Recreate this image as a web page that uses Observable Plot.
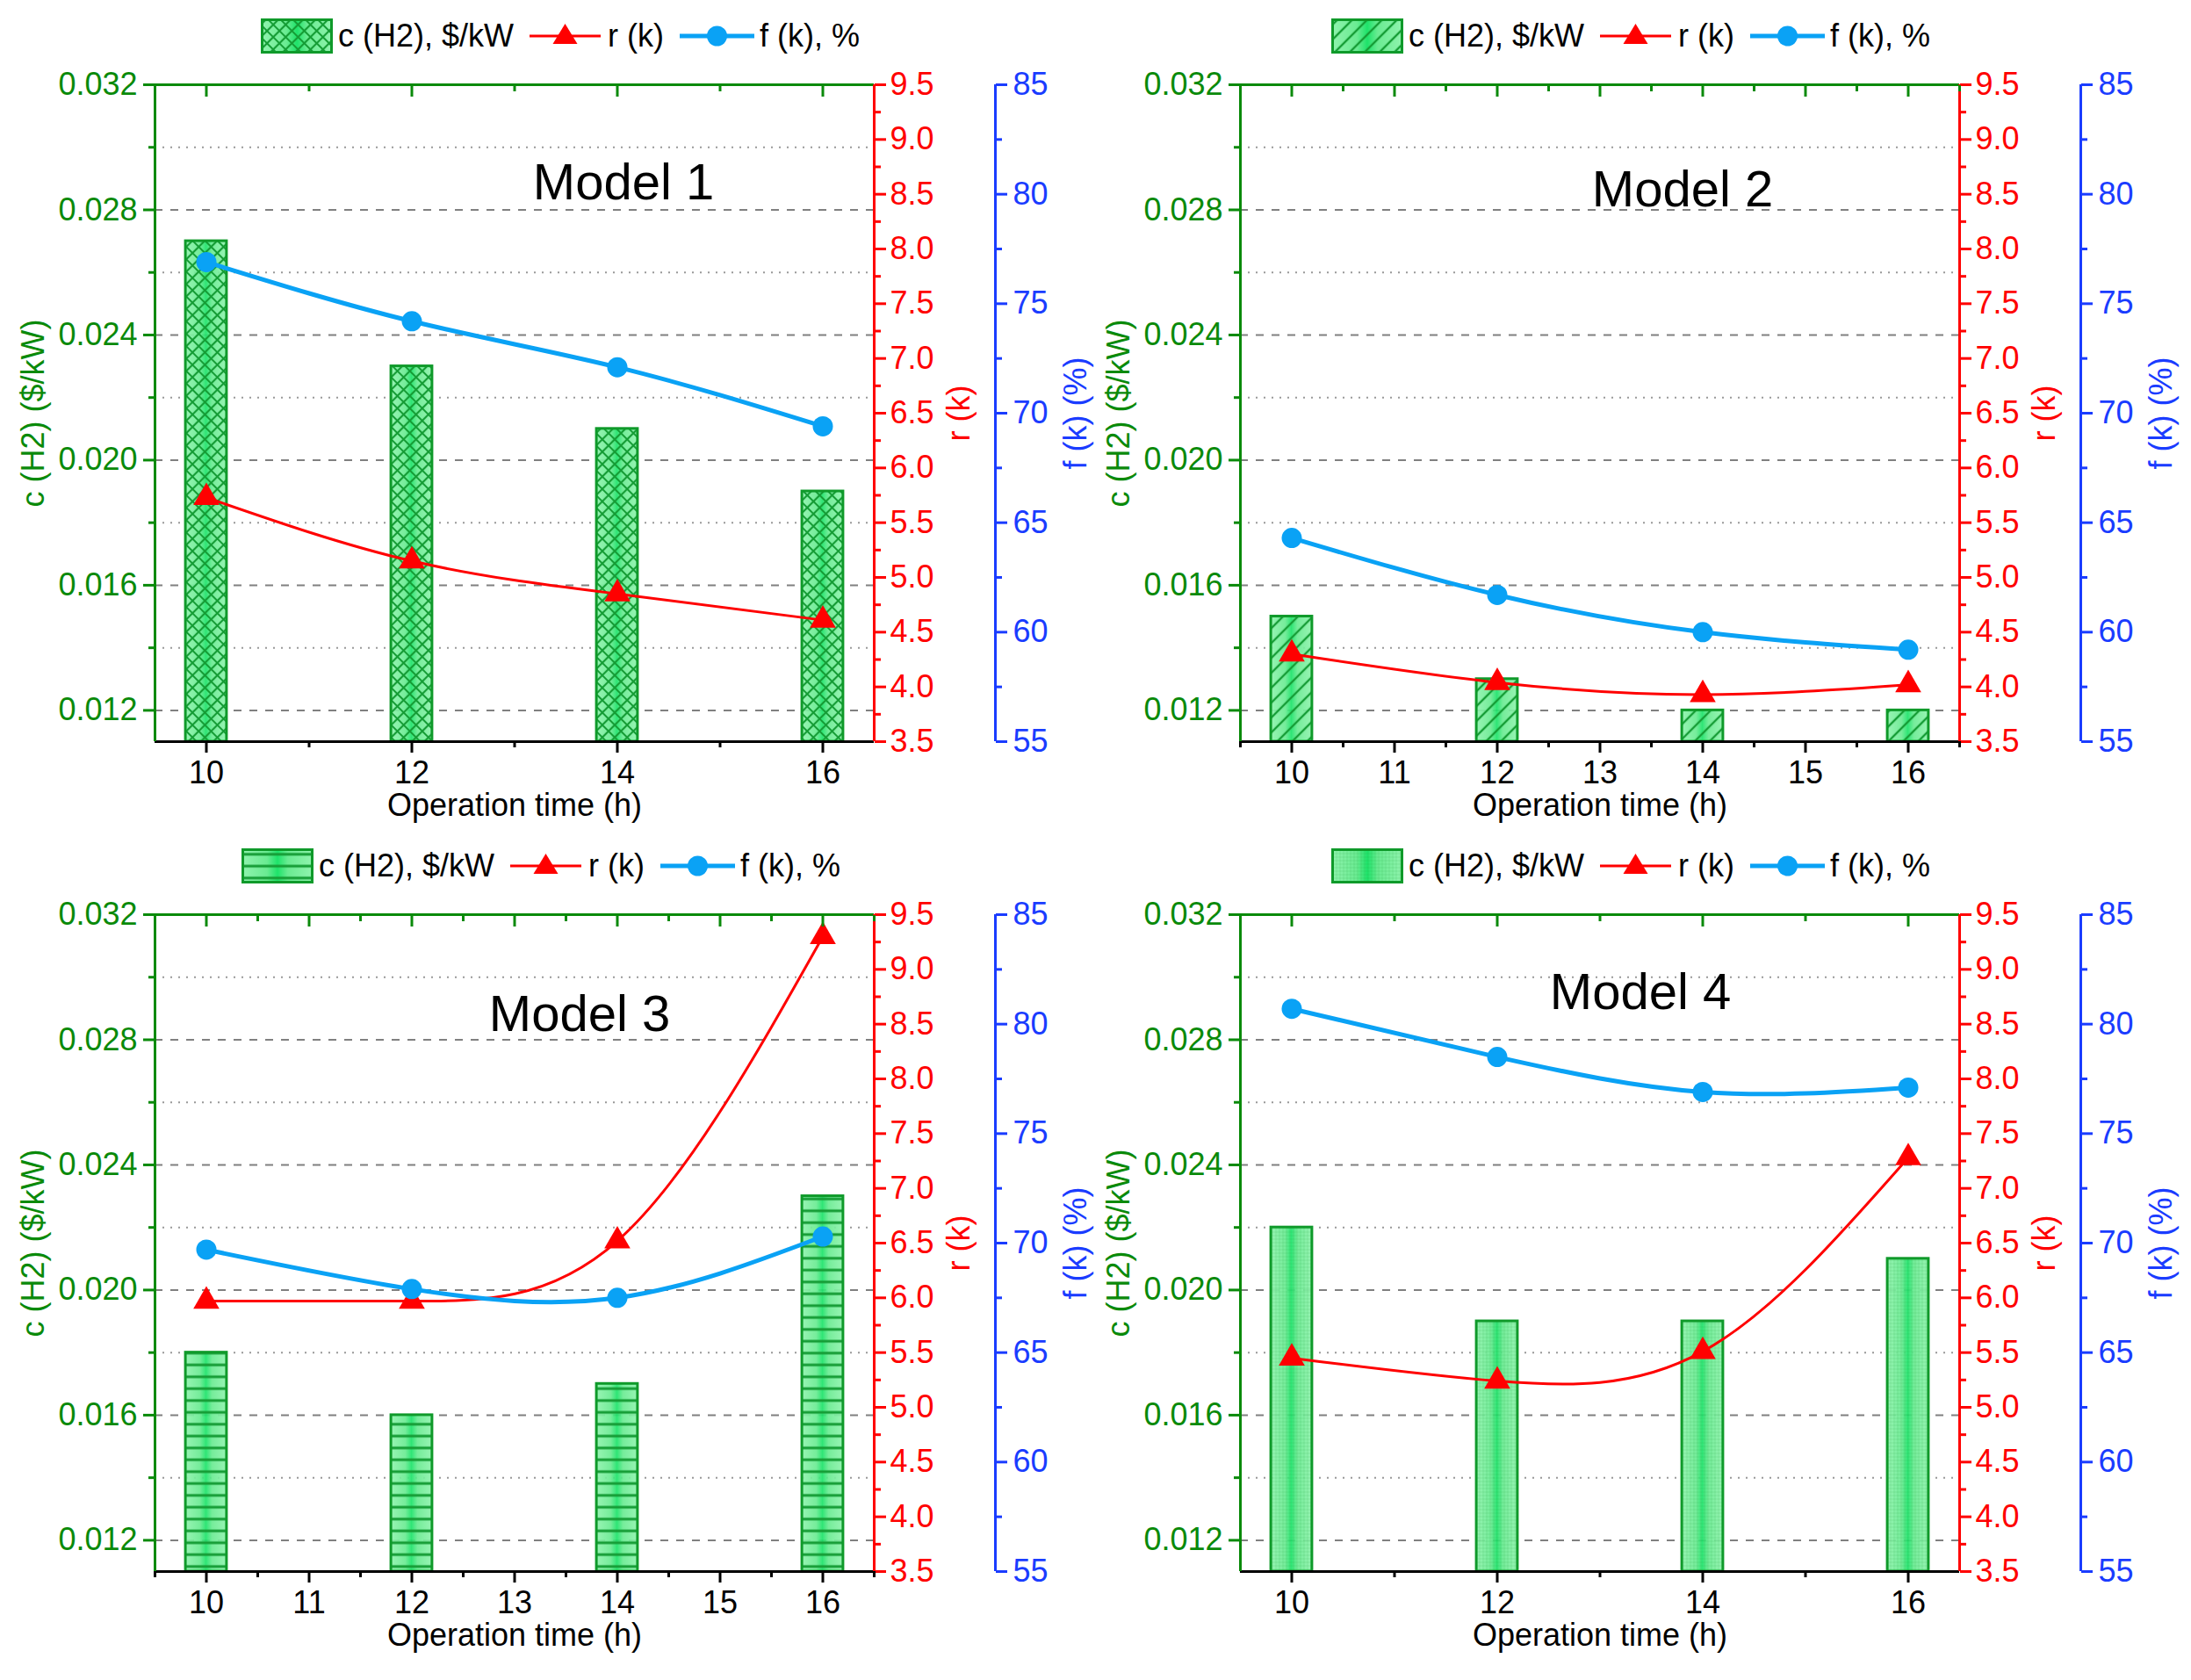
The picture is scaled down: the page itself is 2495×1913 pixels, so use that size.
<!DOCTYPE html>
<html>
<head>
<meta charset="utf-8">
<script src="https://cdn.jsdelivr.net/npm/d3@7"></script>
<script src="https://cdn.jsdelivr.net/npm/@observablehq/plot@0.6"></script>
<style>
  body { margin: 0; background: #fff; font-family: 'Liberation Sans', Arial, sans-serif; }
  #grid { display: grid; grid-template-columns: 1247px 1248px; grid-template-rows: 945px 968px; width: 2495px; }
  .panel { position: relative; }
  .legend { height: 70px; padding-top: 6px; display: flex; align-items: center; font-size: 36px; color: #000; white-space: nowrap; }
  .legend svg { display: block; }
</style>
</head>
<body>
<div id="grid"></div>
<script>
/* ============================================================
   c (H2), r (k), f (k) vs operation time, four models
   ============================================================ */

// ---- data ----
const hours = [10, 12, 14, 16];
const modelNames = ['Model 1', 'Model 2', 'Model 3', 'Model 4'];

const cost1 = [0.027, 0.023, 0.021, 0.019];
const cost2 = [0.015, 0.013, 0.012, 0.012];
const cost3 = [0.018, 0.016, 0.017, 0.023];
const cost4 = [0.022, 0.019, 0.019, 0.021];

const rk1 = [5.73, 5.15, 4.85, 4.61];
const rk2 = [4.30, 4.04, 3.93, 4.02];
const rk3 = [5.97, 5.97, 6.52, 9.30];
const rk4 = [5.45, 5.24, 5.51, 7.28];

const fk1 = [76.9, 74.2, 72.1, 69.4];
const fk2 = [64.3, 61.7, 60.0, 59.2];
const fk3 = [69.7, 67.9, 67.5, 70.3];
const fk4 = [80.7, 78.5, 76.9, 77.1];

// ---- axes ----
const xDomain = [9.5, 16.5];
const cDomain = [0.011, 0.032];
const rDomain = [3.5, 9.5];
const fDomain = [55, 85];

const xTicksEven = [10, 12, 14, 16];
const xTicksAll = [10, 11, 12, 13, 14, 15, 16];
const cTicks = [0.012, 0.016, 0.020, 0.024, 0.028, 0.032];
const cMinorTicks = [0.014, 0.018, 0.022, 0.026, 0.030];
const rTicks = [3.5, 4.0, 4.5, 5.0, 5.5, 6.0, 6.5, 7.0, 7.5, 8.0, 8.5, 9.0, 9.5];
const fTicks = [55, 60, 65, 70, 75, 80, 85];

const GREEN = '#0a8a0a';
const RED = '#ff0000';
const BLUE_AXIS = '#1a3cff';
const BLUE = '#0aa2f5';
const BAR_STROKE = '#0f9a2a';
const FONT = "'Liberation Sans', Arial, sans-serif";
const FS = 36;

const panels = [
  { cost: cost1, rk: rk1, fk: fk1, pattern: 'cross', labels: 'even', marginLeft: 176, legendLeft: 297, modelDx: 124, modelDy: 112 },
  { cost: cost2, rk: rk2, fk: fk2, pattern: 'diag',  labels: 'all',  marginLeft: 165, legendLeft: 269, modelDx: 94,  modelDy: 120 },
  { cost: cost3, rk: rk3, fk: fk3, pattern: 'horiz', labels: 'all',  marginLeft: 176, legendLeft: 275, modelDx: 74,  modelDy: 114 },
  { cost: cost4, rk: rk4, fk: fk4, pattern: 'fine',  labels: 'even', marginLeft: 165, legendLeft: 269, modelDx: 46,  modelDy: 89 }
];

// ---- shared gradient + hatch patterns ----
const defs = d3.select('body').append('svg')
  .attr('width', 0).attr('height', 0)
  .style('position', 'absolute')
  .append('defs');

const grad = defs.append('linearGradient').attr('id', 'barGrad')
  .attr('x1', 0).attr('x2', 1).attr('y1', 0).attr('y2', 0);
[[0, '#8ff3ad'], [0.35, '#6aeb92'], [0.5, '#1ee36a'], [0.65, '#6aeb92'], [1, '#8ff3ad']]
  .forEach(([o, c]) => grad.append('stop').attr('offset', o).attr('stop-color', c));

function addPattern(id, w, h, d, rotate, sw, op) {
  const p = defs.append('pattern').attr('id', id)
    .attr('patternUnits', 'userSpaceOnUse')
    .attr('width', w).attr('height', h);
  if (rotate) p.attr('patternTransform', `rotate(${rotate})`);
  p.append('path').attr('d', d).attr('stroke', '#159c35')
    .attr('stroke-width', sw).attr('stroke-opacity', op).attr('fill', 'none');
}
addPattern('pat-cross', 10, 10, 'M0,5H10M5,0V10', 45, 2.2, 1);
addPattern('pat-diag', 12, 12, 'M0,6H12', -45, 2.4, 1);
addPattern('pat-horiz', 10, 13.5, 'M0,6.75H10', 0, 3, 1);
addPattern('pat-fine', 4, 4, 'M0,2H4M2,0V4', 0, 1, 0.15);

const barHalf = 0.2;

function legend(cfg) {
  const div = d3.create('div').attr('class', 'legend').style('padding-left', cfg.legendLeft + 'px');

  const sw = div.append('svg').attr('width', 82).attr('height', 40);
  sw.append('rect').attr('x', 1.5).attr('y', 1.5).attr('width', 79).attr('height', 37).attr('fill', 'url(#barGrad)');
  sw.append('rect').attr('x', 1.5).attr('y', 1.5).attr('width', 79).attr('height', 37)
    .attr('fill', `url(#pat-${cfg.pattern})`).attr('stroke', BAR_STROKE).attr('stroke-width', 3);
  div.append('span').style('margin-left', '6px').text('c (H2), $/kW');

  const rl = div.append('svg').attr('width', 81).attr('height', 40).style('margin-left', '18px');
  rl.append('line').attr('x1', 0).attr('x2', 81).attr('y1', 20).attr('y2', 20).attr('stroke', RED).attr('stroke-width', 3);
  rl.append('path').attr('d', 'M40.5,6L54.5,29H26.5Z').attr('fill', RED);
  div.append('span').style('margin-left', '8px').text('r (k)');

  const bl = div.append('svg').attr('width', 85).attr('height', 40).style('margin-left', '18px');
  bl.append('line').attr('x1', 0).attr('x2', 85).attr('y1', 20).attr('y2', 20).attr('stroke', BLUE).attr('stroke-width', 5);
  bl.append('circle').attr('cx', 42.5).attr('cy', 20).attr('r', 11.5).attr('fill', BLUE);
  div.append('span').style('margin-left', '6px').text('f (k), %');

  return div.node();
}

function renderPanel(cfg, i) {
  const rows = hours.map((x, j) => ({ x, c: cfg.cost[j], r: cfg.rk[j], f: cfg.fk[j] }));
  const rToC = d3.scaleLinear(rDomain, cDomain);
  const fToC = d3.scaleLinear(fDomain, cDomain);

  const xLabelTicks = cfg.labels === 'even' ? xTicksEven : xTicksAll;
  const xMinor = cfg.labels === 'even'
    ? [11, 13, 15]
    : [xDomain[0]].concat(xTicksAll.map(d => d + 0.5));
  const rMinor = d3.pairs(rTicks).map(([a, b]) => (a + b) / 2);
  const fMinor = d3.pairs(fTicks).map(([a, b]) => (a + b) / 2);

  const axisText = { fontSize: FS, label: null, strokeWidth: 3 };

  const chart = Plot.plot({
    width: 1247,
    height: 869,
    marginTop: 20,
    marginBottom: 101,
    marginLeft: cfg.marginLeft,
    marginRight: 1247 - cfg.marginLeft - 819,
    style: { fontFamily: FONT, fontSize: FS + 'px', background: 'white', overflow: 'visible' },
    x: { domain: xDomain },
    y: { domain: cDomain },
    marks: [
      // grid
      Plot.gridY(cMinorTicks, { stroke: '#999', strokeOpacity: 1, strokeWidth: 2, strokeDasharray: '2,7' }),
      Plot.gridY(cTicks.slice(0, -1), { stroke: '#808080', strokeOpacity: 1, strokeWidth: 2, strokeDasharray: '9,9' }),

      // bars: gradient body + hatch overlay
      Plot.rect(rows, { x1: d => d.x - barHalf, x2: d => d.x + barHalf, y1: () => cDomain[0], y2: 'c', fill: 'url(#barGrad)', fillOpacity: 0.92 }),
      Plot.rect(rows, { x1: d => d.x - barHalf, x2: d => d.x + barHalf, y1: () => cDomain[0], y2: 'c', fill: `url(#pat-${cfg.pattern})`, stroke: BAR_STROKE, strokeWidth: 3 }),

      // r (k)
      Plot.line(rows, { x: 'x', y: d => rToC(d.r), curve: 'natural', stroke: RED, strokeWidth: 3 }),
      Plot.dot(rows, { x: 'x', y: d => rToC(d.r), symbol: 'triangle', r: 11, fill: RED }),

      // f (k)
      Plot.line(rows, { x: 'x', y: d => fToC(d.f), curve: 'natural', stroke: BLUE, strokeWidth: 5 }),
      Plot.dot(rows, { x: 'x', y: d => fToC(d.f), r: 11.5, fill: BLUE }),

      // frame
      Plot.ruleY([cDomain[0]], { stroke: 'black', strokeWidth: 3 }),
      Plot.ruleY([cDomain[1]], { stroke: GREEN, strokeWidth: 3 }),
      Plot.ruleX([xDomain[0]], { stroke: GREEN, strokeWidth: 3 }),
      Plot.ruleX([xDomain[1]], { stroke: RED, strokeWidth: 3 }),
      Plot.ruleX([xDomain[1]], { stroke: BLUE_AXIS, strokeWidth: 3, dx: 138 }),

      // left axis
      Plot.axisY(cTicks, { ...axisText, anchor: 'left', tickSize: 13, tickPadding: 7, color: GREEN, tickFormat: d3.format('.3f') }),
      Plot.axisY(cMinorTicks, { anchor: 'left', tickSize: 7, strokeWidth: 3, stroke: GREEN, fill: 'none', label: null }),

      // right axis r (k)
      Plot.axisY(rTicks.map(rToC), { ...axisText, anchor: 'right', tickSize: 13, tickPadding: 5, color: RED, tickFormat: d => rToC.invert(d).toFixed(1) }),
      Plot.axisY(rMinor.map(rToC), { anchor: 'right', tickSize: 7, strokeWidth: 3, stroke: RED, fill: 'none', label: null }),

      // offset axis f (k)
      Plot.axisY(fTicks.map(fToC), { ...axisText, anchor: 'right', dx: 138, tickSize: 13, tickPadding: 7, color: BLUE_AXIS, tickFormat: d => d3.format('.0f')(fToC.invert(d)) }),
      Plot.axisY(fMinor.map(fToC), { anchor: 'right', dx: 138, tickSize: 7, strokeWidth: 3, stroke: BLUE_AXIS, fill: 'none', label: null }),

      // bottom axis + mirrored top ticks
      Plot.axisX(xLabelTicks, { ...axisText, anchor: 'bottom', tickSize: 13, tickPadding: 9, color: 'black', tickFormat: d => String(d) }),
      Plot.axisX(xMinor, { anchor: 'bottom', tickSize: 7, strokeWidth: 3, stroke: 'black', fill: 'none', label: null }),
      Plot.axisX(xLabelTicks, { anchor: 'top', tickSize: -13, strokeWidth: 3, stroke: GREEN, fill: 'none', label: null }),
      Plot.axisX(xMinor, { anchor: 'top', tickSize: -7, strokeWidth: 3, stroke: GREEN, fill: 'none', label: null }),

      // axis titles
      Plot.text(['c (H2) ($/kW)'], { frameAnchor: 'left', textAnchor: 'middle', rotate: -90, dx: -138, fill: GREEN, fontSize: FS }),
      Plot.text(['r (k)'], { frameAnchor: 'right', textAnchor: 'middle', rotate: -90, dx: 97, fill: RED, fontSize: FS }),
      Plot.text(['f (k) (%)'], { frameAnchor: 'right', textAnchor: 'middle', rotate: -90, dx: 230, fill: BLUE_AXIS, fontSize: FS }),
      Plot.text(['Operation time (h)'], { frameAnchor: 'bottom', dy: 84, fill: 'black', fontSize: FS }),

      // model name
      Plot.text([modelNames[i]], { frameAnchor: 'top', lineAnchor: 'middle', dx: cfg.modelDx, dy: cfg.modelDy, fill: 'black', fontSize: 58 })
    ]
  });

  const panel = d3.select('#grid').append('div').attr('class', 'panel');
  panel.node().appendChild(legend(cfg));
  panel.node().appendChild(chart);
}

panels.forEach(renderPanel);
</script>
</body>
</html>
